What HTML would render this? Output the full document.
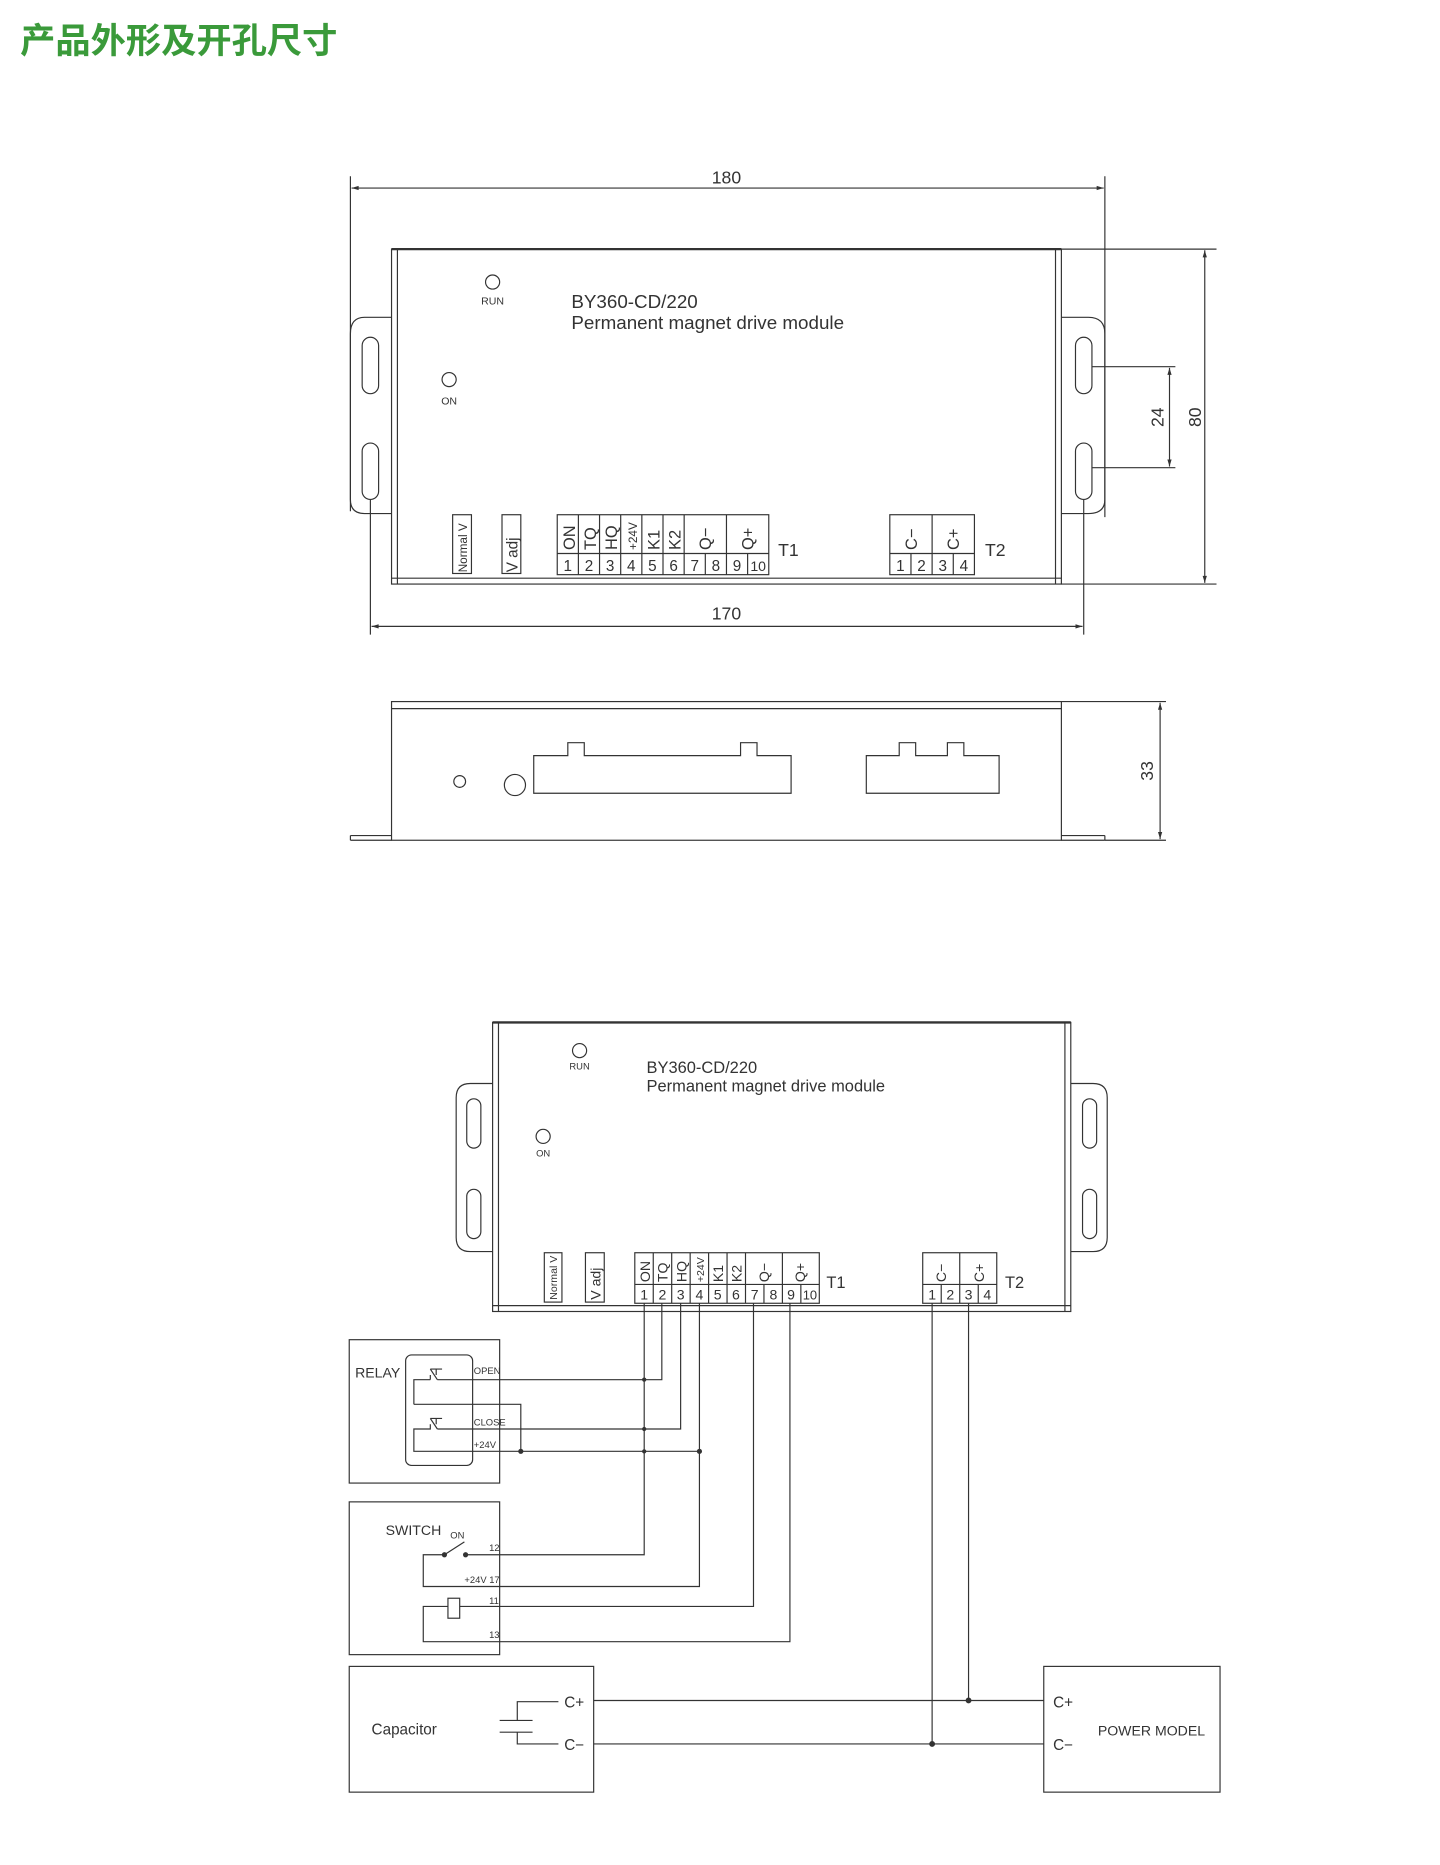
<!DOCTYPE html>
<html><head><meta charset="utf-8"><style>
html,body{margin:0;padding:0;background:#fff}
svg{display:block}
text{font-family:"Liberation Sans",sans-serif;fill:#333}
</style></head><body>
<svg width="1440" height="1865" viewBox="0 0 1225 1587" xmlns="http://www.w3.org/2000/svg">
<defs>
<marker id="a" viewBox="0 0 10 10" refX="10" refY="5" markerWidth="8" markerHeight="6" orient="auto-start-reverse"><path d="M0,2 L10,5 L0,8z" fill="#333"/></marker>
</defs>
<text x="17" y="45" style="font-family:'Liberation Sans','Noto Sans CJK SC',sans-serif;font-weight:bold;font-size:30px;fill:#3a9a3a">产品外形及开孔尺寸</text>

<g stroke="#333" stroke-width="1" fill="none">
<line x1="298" y1="150" x2="298" y2="435"/><line x1="940" y1="150" x2="940" y2="440"/>
<line x1="299" y1="160" x2="939" y2="160" marker-start="url(#a)" marker-end="url(#a)"/>
<rect x="333" y="212" width="570" height="285"/>
<line x1="333" y1="212" x2="903" y2="212" stroke-width="2"/>
<line x1="338" y1="212" x2="338" y2="497"/><line x1="898" y1="212" x2="898" y2="497"/>
<line x1="333" y1="492" x2="903" y2="492"/>
<path d="M333,270 H310 Q298,270 298,284 V425 Q298,437 310,437 H333"/>
<path d="M903,270 H926 Q940,270 940,284 V425 Q940,437 926,437 H903"/>
<rect x="308" y="287" width="14" height="48" rx="7"/><rect x="308" y="377" width="14" height="48" rx="7"/>
<rect x="915" y="287" width="14" height="48" rx="7"/><rect x="915" y="377" width="14" height="48" rx="7"/>
<line x1="315" y1="425" x2="315" y2="540"/><line x1="922" y1="425" x2="922" y2="540"/>
<line x1="316" y1="533" x2="921" y2="533" marker-start="url(#a)" marker-end="url(#a)"/>
<line x1="903" y1="212" x2="1035" y2="212"/><line x1="903" y1="497" x2="1035" y2="497"/>
<line x1="1025" y1="213" x2="1025" y2="496" marker-start="url(#a)" marker-end="url(#a)"/>
<line x1="929" y1="312" x2="1000" y2="312"/><line x1="929" y1="398" x2="1000" y2="398"/>
<line x1="995" y1="313" x2="995" y2="397" marker-start="url(#a)" marker-end="url(#a)"/>
<circle cx="419" cy="240" r="6"/><circle cx="382" cy="323" r="6"/>
<rect x="385" y="438" width="16" height="50"/><rect x="427" y="438" width="16" height="50"/>
<rect x="474" y="438" width="180" height="51"/><line x1="474" y1="471" x2="654" y2="471"/>
<path d="M492,438V489M510,438V489M528,438V489M546,438V489M564,438V489M582,438V489M600,471V489M618,438V489M636,471V489"/>
<rect x="757" y="438" width="72" height="51"/><line x1="757" y1="471" x2="829" y2="471"/>
<path d="M775,471V489M793,438V489M811,471V489"/>

<rect x="333" y="597" width="570" height="118"/>
<line x1="333" y1="603" x2="903" y2="603"/>
<line x1="298" y1="711" x2="333" y2="711"/><line x1="298" y1="715" x2="333" y2="715"/><line x1="298" y1="711" x2="298" y2="715"/>
<line x1="903" y1="711" x2="940" y2="711"/><line x1="903" y1="715" x2="940" y2="715"/><line x1="940" y1="711" x2="940" y2="715"/>
<line x1="903" y1="597" x2="992" y2="597"/><line x1="940" y1="715" x2="992" y2="715"/>
<line x1="987" y1="598" x2="987" y2="714" marker-start="url(#a)" marker-end="url(#a)"/>
<circle cx="391" cy="665" r="5"/><circle cx="438" cy="668" r="9"/>
<path d="M454,643H483V632H497V643H630V632H644V643H673V675H454Z"/>
<path d="M737,643H765V632H779V643H806V632H820V643H850V675H737Z"/>

<rect x="419" y="870" width="492" height="246"/>
<line x1="419" y1="870" x2="911" y2="870" stroke-width="2"/>
<line x1="424" y1="870" x2="424" y2="1116"/><line x1="906" y1="870" x2="906" y2="1116"/>
<line x1="419" y1="1111" x2="911" y2="1111"/>
<path d="M419,922H400Q388,922 388,934V1053Q388,1065 400,1065H419"/>
<path d="M911,922H930Q942,922 942,934V1053Q942,1065 930,1065H911"/>
<rect x="397" y="935" width="12" height="42" rx="6"/><rect x="397" y="1012" width="12" height="42" rx="6"/>
<rect x="921" y="935" width="12" height="42" rx="6"/><rect x="921" y="1012" width="12" height="42" rx="6"/>
<circle cx="493" cy="894" r="6"/><circle cx="462" cy="967" r="6"/>
<rect x="463" y="1066" width="15" height="42"/><rect x="498" y="1066" width="16" height="42"/>
<rect x="540" y="1066" width="157" height="43"/><line x1="540" y1="1093" x2="697" y2="1093"/>
<path d="M555.7,1066V1109M571.4,1066V1109M587.1,1066V1109M602.8,1066V1109M618.5,1066V1109M634.2,1066V1109M649.9,1093V1109M665.6,1066V1109M681.3,1093V1109"/>
<rect x="785" y="1066" width="63" height="43"/><line x1="785" y1="1093" x2="848" y2="1093"/>
<path d="M800.75,1093V1109M816.5,1066V1109M832.25,1093V1109"/>

<path d="M548,1109V1323H396"/>
<path d="M563,1109V1174H372"/>
<path d="M579,1109V1216H372"/>
<path d="M595,1109V1350H360V1323H378"/>
<path d="M641,1109V1367H391"/>
<path d="M672,1109V1397H360V1367H381"/>
<path d="M793,1109V1484"/><path d="M824,1109V1447"/>
<rect x="297" y="1140" width="128" height="122"/>
<rect x="345" y="1153" width="57" height="94" rx="5"/>
<path d="M372,1174L366,1165M366,1165H376M371,1165V1170"/>
<path d="M366,1170V1174M352,1195V1174H366"/>
<path d="M352,1195H443V1235"/>
<path d="M372,1216L366,1207M366,1207H376M371,1207V1212"/>
<path d="M366,1212V1216H352V1235H595"/>
<rect x="297" y="1278" width="128" height="130"/>
<line x1="378" y1="1323" x2="395" y2="1312"/>
<rect x="381" y="1360" width="10" height="17"/>
<rect x="297" y="1418" width="208" height="107"/>
<path d="M425,1464H453M425,1474H453M440,1464V1448H475M440,1474V1484H475"/>
<path d="M505,1447H888M505,1484H888"/>
<rect x="888" y="1418" width="150" height="107"/>
</g>
<g fill="#333">
<circle cx="548" cy="1174" r="1.8"/><circle cx="548" cy="1216" r="1.8"/><circle cx="548" cy="1235" r="1.8"/>
<circle cx="443" cy="1235" r="2.2"/><circle cx="595" cy="1235" r="2.2"/>
<circle cx="378" cy="1323" r="2.2"/><circle cx="396" cy="1323" r="2.2"/>
<circle cx="824" cy="1447" r="2.5"/><circle cx="793" cy="1484" r="2.5"/>
</g>

<g font-size="15" text-anchor="middle">
<text x="618" y="156">180</text><text x="618" y="527">170</text>
<text transform="translate(1022,355) rotate(-90)">80</text>
<text transform="translate(990,355) rotate(-90)">24</text>
<text transform="translate(981,656) rotate(-90)">33</text>
</g>
<text x="419" y="259" font-size="9" text-anchor="middle">RUN</text>
<text x="382" y="344" font-size="9" text-anchor="middle">ON</text>
<text x="486" y="262" font-size="16">BY360-CD/220</text>
<text x="486" y="280" font-size="16">Permanent magnet drive module</text>
<text transform="translate(397,487) rotate(-90)" font-size="10">Normal V</text>
<text transform="translate(440,487) rotate(-90)" font-size="13">V adj</text>
<g font-size="14">
<text transform="translate(489,468) rotate(-90)">ON</text>
<text transform="translate(507,468) rotate(-90)">TQ</text>
<text transform="translate(525,468) rotate(-90)">HQ</text>
<text transform="translate(542,468) rotate(-90)" font-size="10">+24V</text>
<text transform="translate(561,468) rotate(-90)">K1</text>
<text transform="translate(579,468) rotate(-90)">K2</text>
<text transform="translate(605,468) rotate(-90)">Q−</text>
<text transform="translate(641,468) rotate(-90)">Q+</text>
<text transform="translate(780,468) rotate(-90)">C−</text>
<text transform="translate(816,468) rotate(-90)">C+</text>
</g>
<g font-size="13" text-anchor="middle">
<text x="483" y="486">1</text><text x="501" y="486">2</text><text x="519" y="486">3</text><text x="537" y="486">4</text><text x="555" y="486">5</text><text x="573" y="486">6</text><text x="591" y="486">7</text><text x="609" y="486">8</text><text x="627" y="486">9</text><text x="645" y="486" font-size="12">10</text>
<text x="766" y="486">1</text><text x="784" y="486">2</text><text x="802" y="486">3</text><text x="820" y="486">4</text>
</g>
<text x="662" y="473" font-size="15">T1</text><text x="838" y="473" font-size="15">T2</text>

<text x="493" y="910" font-size="8" text-anchor="middle">RUN</text>
<text x="462" y="984" font-size="8" text-anchor="middle">ON</text>
<text x="550" y="913" font-size="14">BY360-CD/220</text>
<text x="550" y="929" font-size="14">Permanent magnet drive module</text>
<text transform="translate(474,1106) rotate(-90)" font-size="9">Normal V</text>
<text transform="translate(511,1106) rotate(-90)" font-size="12">V adj</text>
<g font-size="12">
<text transform="translate(553,1091) rotate(-90)">ON</text>
<text transform="translate(568,1091) rotate(-90)">TQ</text>
<text transform="translate(584,1091) rotate(-90)">HQ</text>
<text transform="translate(599,1091) rotate(-90)" font-size="9">+24V</text>
<text transform="translate(615,1091) rotate(-90)">K1</text>
<text transform="translate(631,1091) rotate(-90)">K2</text>
<text transform="translate(654,1091) rotate(-90)">Q−</text>
<text transform="translate(685,1091) rotate(-90)">Q+</text>
<text transform="translate(805,1091) rotate(-90)">C−</text>
<text transform="translate(837,1091) rotate(-90)">C+</text>
</g>
<g font-size="12" text-anchor="middle">
<text x="548" y="1106">1</text><text x="563.5" y="1106">2</text><text x="579" y="1106">3</text><text x="595" y="1106">4</text><text x="610.5" y="1106">5</text><text x="626" y="1106">6</text><text x="642" y="1106">7</text><text x="658" y="1106">8</text><text x="673" y="1106">9</text><text x="689" y="1106" font-size="11">10</text>
<text x="793" y="1106">1</text><text x="808.5" y="1106">2</text><text x="824" y="1106">3</text><text x="840" y="1106">4</text>
</g>
<text x="703" y="1096" font-size="14">T1</text><text x="855" y="1096" font-size="14">T2</text>

<text x="302" y="1172" font-size="12">RELAY</text>
<g font-size="8">
<text x="403" y="1169">OPEN</text><text x="403" y="1213">CLOSE</text><text x="403" y="1232">+24V</text>
<text x="416" y="1320">12</text><text x="395" y="1347">+24V 17</text><text x="416" y="1365">11</text><text x="416" y="1394">13</text>
<text x="383" y="1309">ON</text>
</g>
<text x="328" y="1306" font-size="12">SWITCH</text>
<text x="316" y="1476" font-size="13">Capacitor</text>
<text x="480" y="1453" font-size="13">C+</text><text x="480" y="1489" font-size="13">C−</text>
<text x="896" y="1453" font-size="13">C+</text><text x="896" y="1489" font-size="13">C−</text>
<text x="934" y="1477" font-size="12">POWER MODEL</text>
</svg>
</body></html>
